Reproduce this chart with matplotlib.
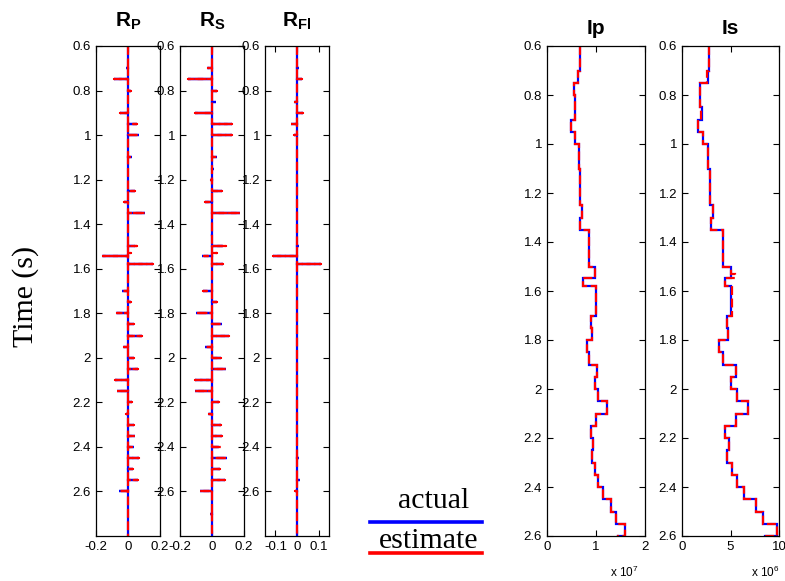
import numpy as np
import matplotlib
matplotlib.use("Agg")
import matplotlib.pyplot as plt
from matplotlib.lines import Line2D

plt.rcParams["font.family"] = ["Liberation Sans", "DejaVu Sans"]
plt.rcParams["mathtext.fontset"] = "custom"
plt.rcParams["mathtext.rm"] = "Liberation Sans"
plt.rcParams["mathtext.bf"] = "Liberation Sans:bold"
plt.rcParams["mathtext.it"] = "Liberation Sans:italic"

# ---- reflectivity series (time in s) ----
spike_times = [0.70, 0.75, 0.80, 0.85, 0.90, 0.95, 1.00, 1.10, 1.15, 1.20,
               1.25, 1.30, 1.35, 1.45, 1.50, 1.53, 1.545, 1.578, 1.70, 1.75,
               1.80, 1.85, 1.90, 1.95, 2.00, 2.05, 2.10, 2.15, 2.20, 2.25,
               2.30, 2.35, 2.40, 2.45, 2.50, 2.55, 2.60, 2.70]

rp_actual = [-0.015, -0.085, 0.020, 0.000, -0.052, 0.058, 0.069, 0.023, 0.000, 0.000,
             0.042, -0.027, 0.106, 0.000, 0.045, 0.000, -0.160, 0.158, -0.040, 0.020,
             -0.073, 0.037, 0.085, -0.031, 0.040, 0.062, -0.081, -0.071, 0.027, -0.015,
             0.035, 0.042, 0.037, 0.071, 0.033, 0.065, -0.056, 0.000]
rp_estimate = [-0.012, -0.085, 0.020, 0.000, -0.052, 0.058, 0.069, 0.023, 0.000, 0.000,
               0.042, -0.027, 0.106, 0.000, 0.055, 0.018, -0.155, 0.158, -0.040, 0.018,
               -0.070, 0.037, 0.085, -0.028, 0.040, 0.062, -0.081, -0.071, 0.027, -0.012,
               0.035, 0.042, 0.037, 0.071, 0.033, 0.065, -0.056, 0.000]

rs_actual = [-0.031, -0.150, 0.030, 0.025, -0.106, 0.125, 0.125, 0.030, 0.012, -0.010,
             0.062, -0.042, 0.175, 0.008, 0.070, 0.000, -0.062, 0.067, -0.058, 0.030,
             -0.100, 0.062, 0.108, -0.042, 0.056, 0.087, -0.104, -0.104, 0.042, -0.025,
             0.056, 0.060, 0.045, 0.092, 0.050, 0.079, -0.073, -0.012]
rs_estimate = [-0.028, -0.150, 0.030, 0.008, -0.106, 0.125, 0.125, 0.030, 0.000, -0.008,
               0.062, -0.042, 0.175, 0.000, 0.087, 0.030, -0.050, 0.067, -0.058, 0.030,
               -0.100, 0.062, 0.108, -0.042, 0.056, 0.087, -0.104, -0.104, 0.042, -0.020,
               0.056, 0.060, 0.056, 0.092, 0.050, 0.079, -0.073, -0.010]

rfl_actual = [0.009, 0.023, 0.000, -0.012, 0.026, -0.026, -0.015, 0.000, 0.000, 0.000,
              0.000, 0.000, 0.000, 0.000, 0.008, 0.000, -0.112, 0.112, 0.000, 0.000,
              0.000, 0.000, 0.000, 0.000, 0.000, 0.000, 0.000, 0.000, 0.000, 0.000,
              0.000, 0.000, 0.000, 0.009, 0.000, 0.012, -0.010, 0.000]
rfl_estimate = [0.004, 0.023, 0.000, -0.010, 0.026, -0.026, -0.015, 0.000, 0.000, 0.000,
                0.000, 0.000, 0.000, 0.000, 0.006, 0.000, -0.112, 0.112, 0.000, 0.000,
                0.000, 0.000, 0.000, 0.000, 0.000, 0.000, 0.000, 0.000, 0.000, 0.000,
                0.000, 0.000, 0.000, 0.008, 0.000, 0.010, -0.010, 0.000]

# ---- impedance logs: layer top times and values ----
ip_tops = [0.60, 0.70, 0.75, 0.80, 0.90, 0.95, 1.00, 1.10, 1.25, 1.30, 1.35,
           1.50, 1.545, 1.578, 1.70, 1.75, 1.80, 1.85, 1.90, 1.95, 2.00, 2.05,
           2.10, 2.15, 2.20, 2.25, 2.30, 2.35, 2.40, 2.45, 2.50, 2.55, 2.60]
ip_actual = [0.669, 0.642, 0.548, 0.567, 0.498, 0.567, 0.660, 0.680, 0.724, 0.683, 0.860,
             0.983, 0.737, 0.995, 0.894, 0.922, 0.819, 0.860, 1.030, 0.976, 1.044, 1.215,
             1.010, 0.894, 0.942, 0.922, 0.983, 1.050, 1.147, 1.297, 1.406, 1.584, 1.440]
ip_estimate = [0.669, 0.640, 0.548, 0.562, 0.496, 0.567, 0.652, 0.678, 0.724, 0.680, 0.860,
               0.985, 0.735, 0.990, 0.900, 0.920, 0.815, 0.860, 1.030, 0.976, 1.044, 1.215,
               1.010, 0.894, 0.945, 0.920, 0.983, 1.050, 1.147, 1.297, 1.406, 1.590, 1.440]

is_tops = [0.60, 0.70, 0.75, 0.85, 0.90, 0.95, 1.00, 1.10, 1.25, 1.30, 1.35,
           1.50, 1.545, 1.578, 1.70, 1.75, 1.80, 1.85, 1.90, 1.95, 2.00, 2.05,
           2.10, 2.15, 2.20, 2.25, 2.30, 2.35, 2.40, 2.45, 2.50, 2.55, 2.60]
is_actual = [2.83, 2.63, 1.90, 2.08, 1.64, 2.12, 2.66, 2.90, 3.24, 3.00, 4.27,
             5.02, 4.47, 5.09, 4.61, 4.74, 3.86, 4.27, 5.56, 5.05, 5.70, 6.83,
             5.53, 4.44, 4.88, 4.61, 5.12, 5.70, 6.42, 7.68, 8.36, 9.80, 8.53]
is_est_tops = [0.60, 0.70, 0.75, 0.85, 0.90, 0.95, 1.00, 1.10, 1.25, 1.30, 1.35,
               1.50, 1.53, 1.545, 1.578, 1.70, 1.75, 1.80, 1.85, 1.90, 1.95, 2.00, 2.05,
               2.10, 2.15, 2.20, 2.25, 2.30, 2.35, 2.40, 2.45, 2.50, 2.55, 2.60]
is_estimate = [2.83, 2.60, 1.88, 1.95, 1.62, 2.12, 2.66, 2.90, 3.24, 3.00, 4.27,
               5.02, 5.46, 4.47, 5.20, 4.65, 4.74, 3.86, 4.27, 5.56, 5.05, 5.70, 6.83,
               5.53, 4.44, 4.88, 4.61, 5.12, 5.70, 6.42, 7.68, 8.36, 9.80, 8.53]

t_top, t_bottom = 0.6, 2.8
time_ticks = [0.6, 0.8, 1.0, 1.2, 1.4, 1.6, 1.8, 2.0, 2.2, 2.4, 2.6]
time_labels = ["0.6", "0.8", "1", "1.2", "1.4", "1.6", "1.8", "2", "2.2", "2.4", "2.6"]

BLUE = (0, 0, 1)
RED = (1, 0, 0)
LW = 1.6
DASH = (4, 1.6)


def spike_trace(times, values):
    """Zero trace with a horizontal excursion at every reflection time."""
    x, y = [0.0], [t_top]
    for t, v in zip(times, values):
        x += [0.0, v, 0.0]
        y += [t, t, t]
    x.append(0.0)
    y.append(t_bottom)
    return x, y


def style_axes(ax):
    ax.tick_params(direction="in", top=True, right=True, length=4,
                   labelsize=9.5, pad=3.5, width=0.8, colors="black")
    for s in ax.spines.values():
        s.set_linewidth(0.9)


fig = plt.figure(figsize=(7.85, 5.81), dpi=100)
W, H = 785.0, 581.0


def add_axes_px(x0, x1, y0, y1):
    return fig.add_axes([x0 / W, 1 - y1 / H, (x1 - x0) / W, (y1 - y0) / H])


# reflectivity panels
refl_panels = [
    (96, 160, r"$\mathbf{R_P}$", rp_actual, rp_estimate, (-0.2, 0.2),
     [-0.2, 0, 0.2], ["-0.2", "0", "0.2"]),
    (180, 244, r"$\mathbf{R_S}$", rs_actual, rs_estimate, (-0.2, 0.2),
     [-0.2, 0, 0.2], ["-0.2", "0", "0.2"]),
    (265, 329, r"$\mathbf{R_{Fl}}$", rfl_actual, rfl_estimate, (-0.148, 0.148),
     [-0.1, 0, 0.1], ["-0.1", "0", "0.1"]),
]
for x0, x1, title, act, est, xlim, xt, xtl in refl_panels:
    ax = add_axes_px(x0, x1, 46, 536)
    xa, ya = spike_trace(spike_times, act)
    xe, ye = spike_trace(spike_times, est)
    ax.plot(xa, ya, color=BLUE, lw=LW, solid_joinstyle="miter")
    ax.plot(xe, ye, color=RED, lw=LW, dashes=DASH)
    ax.set_xlim(*xlim)
    ax.set_ylim(t_bottom, t_top)
    ax.set_xticks(xt)
    ax.set_xticklabels(xtl)
    ax.set_yticks(time_ticks)
    ax.set_yticklabels(time_labels)
    style_axes(ax)
    ax.text(0.5, 1 + 19 / 490, title, transform=ax.transAxes, ha="center",
            va="baseline", fontsize=15)

# impedance panels
imp_panels = [
    (547, 645, "Ip", ip_tops, ip_actual, ip_tops, ip_estimate, (0, 2),
     [0, 1, 2], ["0", "1", "2"], r"x 10$^{7}$", 0.93),
    (682, 779, "Is", is_tops, is_actual, is_est_tops, is_estimate, (0, 10),
     [0, 5, 10], ["0", "5", "10"], r"x 10$^{6}$", 1.0),
]
for x0, x1, title, tops_a, act, tops_e, est, xlim, xt, xtl, mult, mx in imp_panels:
    ax = add_axes_px(x0, x1, 46, 536)
    ax.stairs(act, list(tops_a) + [t_bottom], orientation="horizontal",
              baseline=None, color=BLUE, lw=LW)
    ax.stairs(est, list(tops_e) + [t_bottom], orientation="horizontal",
              baseline=None, color=RED, lw=LW, linestyle=(0, DASH))
    ax.set_xlim(*xlim)
    ax.set_ylim(2.6, t_top)
    ax.set_xticks(xt)
    ax.set_xticklabels(xtl)
    ax.set_yticks(time_ticks)
    ax.set_yticklabels(time_labels)
    style_axes(ax)
    ax.text(0.5, 1 + 12 / 490, title, transform=ax.transAxes, ha="center",
            va="baseline", fontsize=15, fontweight="bold")
    ax.text(mx, -36 / 490, mult, transform=ax.transAxes, ha="right",
            va="center", fontsize=8.5)

# axis title
fig.text(25.5 / W, 1 - 296 / H, "Time (s)", rotation=90, ha="center", va="center",
         fontsize=21.5, family=["Liberation Serif", "DejaVu Serif"])

# legend
fig.text(433.5 / W, 1 - 508 / H, "actual", ha="center", va="baseline",
         fontsize=21.5, family=["Liberation Serif", "DejaVu Serif"])
fig.text(428.5 / W, 1 - 548 / H, "estimate", ha="center", va="baseline",
         fontsize=21.5, family=["Liberation Serif", "DejaVu Serif"])
fig.add_artist(Line2D([370 / W, 482 / W], [1 - 521.5 / H, 1 - 521.5 / H],
                      transform=fig.transFigure, color=BLUE, lw=2.6))
fig.add_artist(Line2D([370 / W, 482 / W], [1 - 553 / H, 1 - 553 / H],
                      transform=fig.transFigure, color=RED, lw=2.6))

fig.savefig("out.png", dpi=100, facecolor="white")
